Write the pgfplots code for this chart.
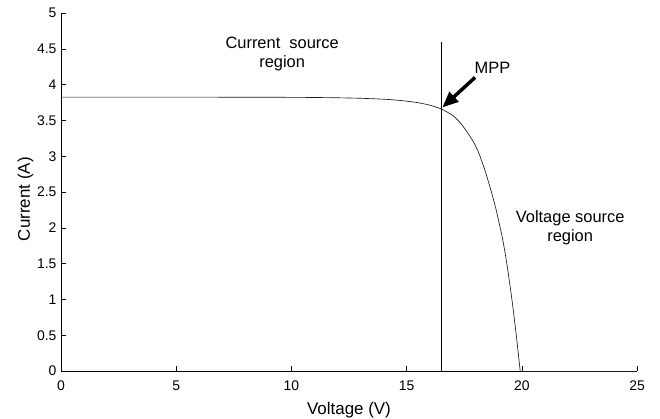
\documentclass[border=0pt]{standalone}
\usepackage{fontspec}
\setmainfont{Liberation Sans}
\usepackage{pgfplots}
\pgfplotsset{compat=1.18}
\usetikzlibrary{arrows.meta}

\begin{document}
\begin{tikzpicture}
\path[use as bounding box] (-61bp,-48bp) rectangle (599bp,371bp);
\begin{axis}[
  at={(0,0)}, anchor=south west,
  scale only axis, width=576bp, height=358bp,
  xmin=0, xmax=25, ymin=0, ymax=5,
  axis lines*=left,
  axis line style={line width=0.6bp, black},
  tick align=inside,
  major tick length=5bp,
  tick style={black, line width=0.6bp},
  xtick={0,5,10,15,20,25},
  ytick={0,0.5,1,1.5,2,2.5,3,3.5,4,4.5,5},
  /pgf/number format/assume math mode=true,
  tick label style={font=\fontsize{14}{16}\selectfont},
  xticklabel style={yshift=-6bp},
  yticklabel style={xshift=-1bp},
  label style={font=\fontsize{17}{20}\selectfont},
  xlabel={Voltage (V)},
  xlabel style={at={(axis description cs:0.5,0)}, anchor=base, yshift=-43bp},
  ylabel={Current (A)},
  ylabel style={at={([xshift=-31bp]axis description cs:0,0.48)}, anchor=base},
  clip=false,
]
% I-V characteristic of the PV module
\addplot[black!90, line width=0.65bp, smooth, tension=0.4] coordinates {
  (0,3.825) (4,3.825) (8,3.824) (10,3.822) (11,3.82)
  (12,3.816) (13,3.809) (14,3.796) (14.5,3.785) (15,3.769)
  (15.5,3.747) (16,3.713) (16.5,3.66) (17,3.57) (17.32,3.47) (17.6,3.35)
  (17.9,3.20) (18.1,3.07) (18.33,2.87) (18.5,2.70) (18.69,2.49) (18.85,2.30)
  (18.98,2.12) (19.17,1.84) (19.35,1.50) (19.55,1.05) (19.75,0.53)
  (19.93,0)
};
\addplot[black!90, line width=0.65bp] coordinates {(19.93,0) (25,0)};
% voltage at the maximum power point
\addplot[black, line width=0.6bp] coordinates {(16.5,0) (16.5,4.6)};

\node[align=center, font=\fontsize{16.5}{19}\selectfont] at (axis cs:9.6,4.43) {Current~ source\\region};
\node[align=center, font=\fontsize{16.5}{19}\selectfont] at (axis cs:22.1,2.0) {Voltage source\\region};
\node[font=\fontsize{16.5}{19}\selectfont] at (axis cs:18.73,4.23) {MPP};
\draw[black, line width=3.5bp, -{Triangle[length=16bp,width=13bp]}]
  (axis cs:17.97,4.10) -- (axis cs:16.55,3.68);
\end{axis}
\end{tikzpicture}
\end{document}
